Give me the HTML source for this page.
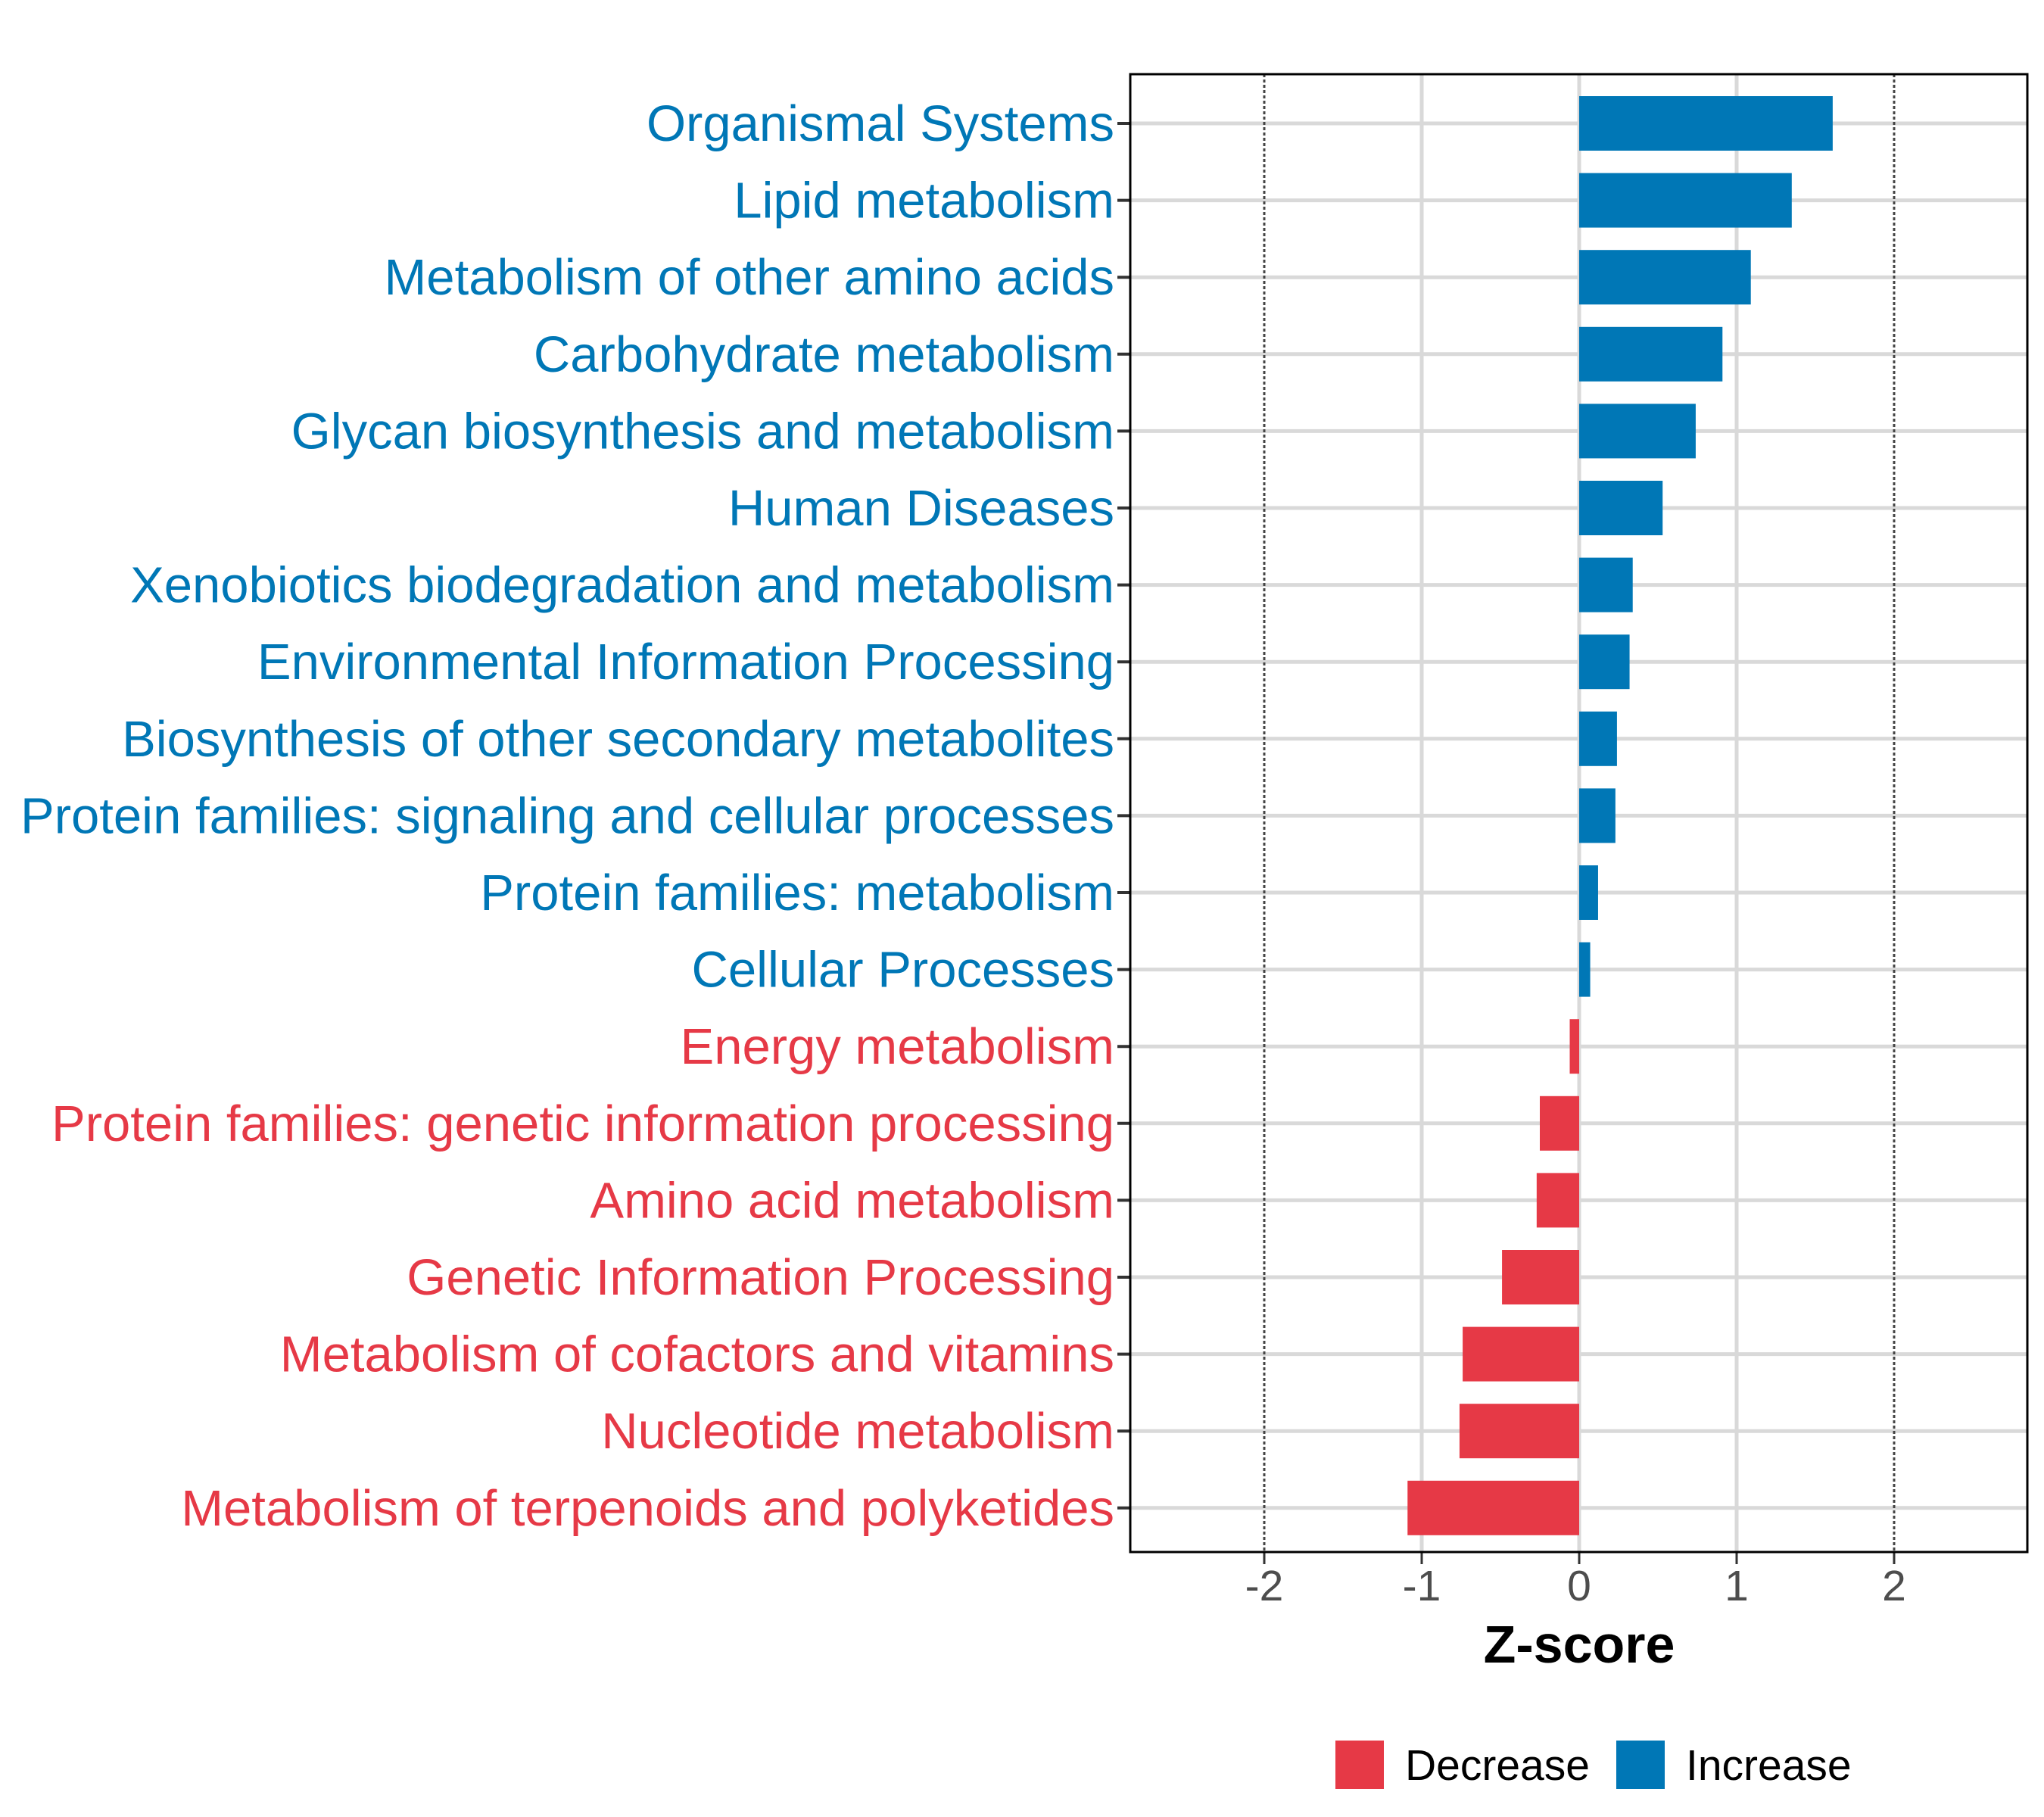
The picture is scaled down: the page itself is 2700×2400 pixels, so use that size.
<!DOCTYPE html>
<html><head><meta charset="utf-8"><style>
html,body{margin:0;padding:0;background:#fff;}
svg{display:block;font-family:"Liberation Sans",sans-serif;}
</style></head><body>
<svg id="chart" width="2700" height="2400" viewBox="0 0 2700 2400">
<g id="grid"></g>
<g id="bars"></g>
<g id="ylabels"></g>
<g id="xaxis"></g>
<rect x="1493" y="98" width="1185" height="1952" fill="none" stroke="#000" stroke-width="3"/>
<text x="2086" y="2196" text-anchor="middle" font-size="70" font-weight="bold" fill="#000">Z-score</text>
<g>
<rect x="1764" y="2299" width="64" height="64" fill="#E63946"/>
<text x="1856" y="2351" font-size="57" fill="#000">Decrease</text>
<rect x="2135" y="2299" width="64" height="64" fill="#0077B6"/>
<text x="2227" y="2351" font-size="57" fill="#000">Increase</text>
</g>
</svg>
<script>
const categories = ["Organismal Systems","Lipid metabolism","Metabolism of other amino acids","Carbohydrate metabolism","Glycan biosynthesis and metabolism","Human Diseases","Xenobiotics biodegradation and metabolism","Environmental Information Processing","Biosynthesis of other secondary metabolites","Protein families: signaling and cellular processes","Protein families: metabolism","Cellular Processes","Energy metabolism","Protein families: genetic information processing","Amino acid metabolism","Genetic Information Processing","Metabolism of cofactors and vitamins","Nucleotide metabolism","Metabolism of terpenoids and polyketides"];
const zscores = [1.61,1.35,1.09,0.91,0.74,0.53,0.34,0.32,0.24,0.23,0.12,0.07,-0.06,-0.25,-0.27,-0.49,-0.74,-0.76,-1.09];
const xTicks = [-2,-1,0,1,2];
const xTickLabels = ["-2","-1","0","1","2"];

const NS="http://www.w3.org/2000/svg";
const X0=2086, UNIT=208, TOP=163, STEP=101.6, PL=1493, PR=2678, PT=98, PB=2050;
function xs(v){return X0+v*UNIT;}
function ys(i){return TOP+i*STEP;}
function mk(tag,attrs,parent){const e=document.createElementNS(NS,tag);for(const k in attrs)e.setAttribute(k,attrs[k]);parent.appendChild(e);return e;}
const grid=document.getElementById('grid'),bars=document.getElementById('bars'),yl=document.getElementById('ylabels'),xa=document.getElementById('xaxis');
categories.forEach((c,i)=>{
  const g=mk('line',{x1:PL,x2:PR,y1:ys(i),y2:ys(i),stroke:'#D9D9D9','stroke-width':5},grid);
  
  
});
xTicks.forEach((t,i)=>{
  const dotted=Math.abs(t)===2;
  const g=mk('line',{x1:xs(t),x2:xs(t),y1:PT,y2:PB,stroke:dotted?'#444':'#D9D9D9','stroke-width':dotted?3:5,'stroke-dasharray':dotted?'4 3':'none'},grid);
  
  
  const tk=mk('line',{x1:xs(t),x2:xs(t),y1:PB,y2:PB+16,stroke:'#333','stroke-width':3},xa);
  
  
  const tl=mk('text',{x:xs(t),y:PB+64,'text-anchor':'middle','font-size':57,fill:'#4D4D4D'},xa);
  tl.textContent=xTickLabels[i];
  
  
});
categories.forEach((c,i)=>{
  const v=zscores[i], col=v>=0?'#0077B6':'#E63946';
  const b=mk('rect',{x:Math.min(xs(0),xs(v)),y:ys(i)-36,width:Math.abs(xs(v)-xs(0)),height:72,fill:col},bars);
  
  
  const tk=mk('line',{x1:PL-17,x2:PL,y1:ys(i),y2:ys(i),stroke:'#333','stroke-width':4},yl);
  
  
  const t=mk('text',{x:1472,y:ys(i)+23,'text-anchor':'end','font-size':67,fill:col},yl);
  t.textContent=c;
  
  
});
</script>
</body></html>
